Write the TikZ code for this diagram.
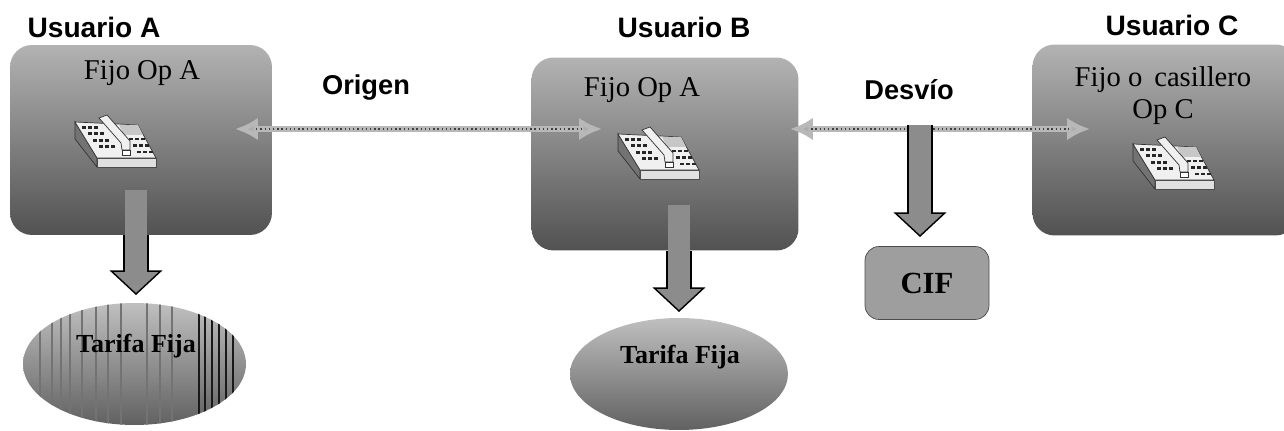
\documentclass[tikz,border=0pt]{standalone}
\usepackage{fontspec}
\setmainfont{Liberation Serif}
\newfontfamily\headfont{Liberation Sans}
\usetikzlibrary{arrows.meta}
\usetikzlibrary{shapes.geometric}
\definecolor{arrowgray}{gray}{0.55}
\definecolor{halogray}{gray}{0.72}

\begin{document}
\begin{tikzpicture}[x=0.02cm, y=-0.02cm,
    userbox/.style={rounded corners=0.44cm, inner sep=0, top color=black!30, middle color=black!42, bottom color=black!68},
    cifbox/.style={draw=black!70, rounded corners=0.28cm, inner sep=0, fill=black!38, minimum width=2.48cm, minimum height=1.46cm, font=\bfseries\fontsize{17.5}{20}\selectfont},
    tarifa/.style={ellipse, inner sep=0, top color=black!25, bottom color=black!62},
    tarifatext/.style={font=\bfseries\fontsize{14.8}{17}\selectfont},
    usertitle/.style={font=\headfont\bfseries\fontsize{16}{19}\selectfont},
    linktitle/.style={font=\headfont\bfseries\fontsize{15.5}{19}\selectfont},
    boxtext/.style={font=\fontsize{16.3}{19}\selectfont},
    blockout/.style={draw=black, line width=14.6pt, -{Triangle[width=30pt, length=14pt, fill=arrowgray, line width=0.8pt]}},
    blockin/.style={draw=arrowgray, line width=12pt, shorten >=13pt},
    halo/.style={draw=halogray, line width=3pt, {Latex[length=13pt, width=13pt, fill=black!32]}-{Latex[length=13pt, width=13pt, fill=black!32]}},
    halodots/.style={draw=black!75, line width=1.4pt, dash pattern=on 0.8pt off 1.6pt, shorten <=12pt, shorten >=12pt},
    phone/.pic={
        \draw [black!80, line width=0.4pt, fill=black!55] (1,7) -- (1,24) -- (23,52) -- (23,43) -- cycle;
        \draw [black!80, line width=0.4pt, fill=black!6] (1,7) -- (64,10) -- (82,43) -- (23,43) -- cycle;
        \draw [black!70, line width=0.3pt, fill=black!12] (23,43) rectangle (82,52);
        \fill [black!22] (45,10) -- (64,10) -- (69,20) -- (50,20) -- cycle;
        \foreach \r in {0, 1, 2, 3}
        {
            \foreach \c in {0, 1, 2}
            {
                \fill [black!85] (8+\c*6+\r*5.5, 11+\r*6.5) rectangle ++(4, 3);
            }
        }
        \foreach \r in {0, 1, 2}
        {
            \foreach \c in {0, 1, 2}
            {
                \fill [black!85] (55+\c*6+\r*4, 23+\r*6.5) rectangle ++(4, 2.5);
            }
        }
        \draw [black!80, fill=black!6, line width=0.4pt] (25,3) -- (33,0) -- (56,26) -- (56,35) -- (48,35) -- (47,28) -- cycle;
        \draw [black!80, fill=white, line width=0.3pt] (48,35) rectangle (56,40);
    }]

    \useasboundingbox (0,0) rectangle (1284,431);

    % users
    \node [usertitle] (titleA) at (94,27) {Usuario A};
    \node [usertitle] (titleB) at (684,27) {Usuario B};
    \node [usertitle] (titleC) at (1172,25) {Usuario C};
    \node [linktitle] (origen) at (366,88) {Origen};
    \node [linktitle] (desvio) at (909,90) {Desvío};

    \node [userbox, minimum width=5.24cm, minimum height=3.80cm] (boxA) at (141,140) {};
    \node [userbox, minimum width=5.34cm, minimum height=3.86cm] (boxB) at (665,154) {};
    \node [userbox, minimum width=5.30cm, minimum height=3.82cm] (boxC) at (1165,140) {};
    \node [cifbox] (cif) at (927,283) {CIF};

    \begin{scope}
        \node [tarifa, minimum width=4.46cm, minimum height=2.44cm] (ellipseA) at (134.5,364) {};
        \clip (134.5,364) ellipse [x radius=111.5, y radius=61];
        \foreach \x in {40, 52, 61, 70, 82, 96, 108, 121, 147, 160, 172}
        {
            \draw [black!55, line width=0.6pt] (\x,303) -- (\x,425);
        }
        \foreach \x in {199, 205, 212, 219, 226, 233}
        {
            \draw [black!90, line width=0.8pt] (\x,303) -- (\x,425);
        }
    \end{scope}
    \node [tarifatext] (tarifaA) at (136,346) {Tarifa Fija};
    \node [tarifa, minimum width=4.36cm, minimum height=2.24cm] (ellipseB) at (679,374) {};
    \node [tarifatext] (tarifaB) at (680,357) {Tarifa Fija};

    \node [boxtext] (fijoA) at (142,73) {Fijo Op A};
    \node [boxtext] (fijoB) at (642,90) {Fijo Op A};
    \node [boxtext] (fijoC) at (1163,80) {Fijo o\, casillero};
    \node [boxtext] (opC) at (1163,112) {Op C};

    \pic at (74,115) {phone};
    \pic at (617,127) {phone};
    \pic at (1132,137) {phone};

    % links between users
    \coordinate (origenL) at (235,129);
    \coordinate (origenR) at (602,129);
    \coordinate (desvioL) at (790,129);
    \coordinate (desvioR) at (1090,129);
    \draw [halo] (origenL) -- (origenR);
    \draw [halodots] (origenL) -- (origenR);
    \draw [halo] (desvioL) -- (desvioR);
    \draw [halodots] (desvioL) -- (desvioR);

    % arrows down
    \coordinate (tipA) at (136,295);
    \coordinate (tipB) at (679,312);
    \coordinate (tipC) at (920,237);
    \draw [blockout] (tipA |- boxA.south) -- (tipA);
    \draw [blockin] (136,190) -- (tipA);
    \draw [blockout] (tipB |- boxB.south) -- (tipB);
    \draw [blockin] (679,205) -- (tipB);
    \draw [blockout] (920,125) -- (tipC);
    \draw [blockin] (920,125) -- (tipC);
\end{tikzpicture}
\end{document}
